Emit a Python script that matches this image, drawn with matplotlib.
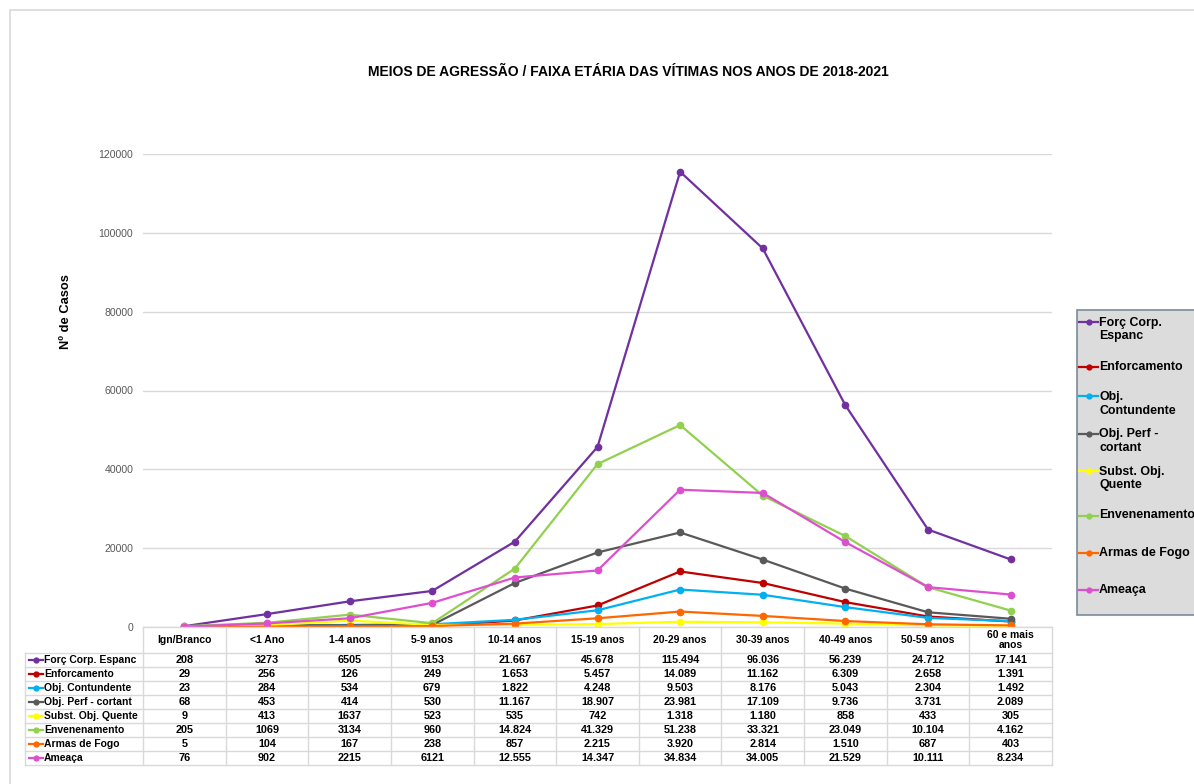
import numpy as np
import matplotlib.pyplot as plt
from matplotlib.patches import Rectangle

plt.rcParams['font.family'] = ['Liberation Sans', 'DejaVu Sans']

# Dados
faixas = ["Ign/Branco", "<1 Ano", "1-4 anos", "5-9 anos", "10-14 anos", "15-19 anos",
          "20-29 anos", "30-39 anos", "40-49 anos", "50-59 anos", "60 e mais\nanos"]

forc_corp = [208, 3273, 6505, 9153, 21667, 45678, 115494, 96036, 56239, 24712, 17141]
enforcamento = [29, 256, 126, 249, 1653, 5457, 14089, 11162, 6309, 2658, 1391]
obj_contundente = [23, 284, 534, 679, 1822, 4248, 9503, 8176, 5043, 2304, 1492]
obj_perf = [68, 453, 414, 530, 11167, 18907, 23981, 17109, 9736, 3731, 2089]
subst_quente = [9, 413, 1637, 523, 535, 742, 1318, 1180, 858, 433, 305]
envenenamento = [205, 1069, 3134, 960, 14824, 41329, 51238, 33321, 23049, 10104, 4162]
armas_fogo = [5, 104, 167, 238, 857, 2215, 3920, 2814, 1510, 687, 403]
ameaca = [76, 902, 2215, 6121, 12555, 14347, 34834, 34005, 21529, 10111, 8234]

series = [
    ("Forç Corp. Espanc", "Forç Corp.\nEspanc", forc_corp, "#7030a0"),
    ("Enforcamento", "Enforcamento", enforcamento, "#c00000"),
    ("Obj. Contundente", "Obj.\nContundente", obj_contundente, "#00b0f0"),
    ("Obj. Perf - cortant", "Obj. Perf -\ncortant", obj_perf, "#595959"),
    ("Subst. Obj. Quente", "Subst. Obj.\nQuente", subst_quente, "#ffff00"),
    ("Envenenamento", "Envenenamento", envenenamento, "#92d050"),
    ("Armas de Fogo", "Armas de Fogo", armas_fogo, "#ff6600"),
    ("Ameaça", "Ameaça", ameaca, "#dd4fcf"),
]

W, H = 1194, 784
fig = plt.figure(figsize=(W / 100, H / 100), dpi=100)

def fx(px):
    return px / W

def fy(py):
    return 1 - py / H

# moldura
fig.patches.append(Rectangle((fx(10), fy(800)), fx(1200) - fx(10), fy(10) - fy(800),
                             transform=fig.transFigure, fill=False, edgecolor="#d9d9d9", lw=1.2))

# grafico principal
left, right, top, bottom = 143, 1052, 154, 627
ax = fig.add_axes([fx(left), fy(bottom), fx(right) - fx(left), fy(top) - fy(bottom)])
x = np.arange(len(faixas))
for nome, _, vals, cor in series:
    ax.plot(x, vals, color=cor, lw=1.6, marker="o", markersize=4.5, zorder=3)
ax.set_xlim(-0.5, len(faixas) - 0.5)
ax.set_ylim(0, 120000)
ax.set_yticks(np.arange(0, 120001, 20000))
ax.set_xticks([])
ax.tick_params(axis="y", length=0, labelsize=7.6, labelcolor="#595959", pad=7)
ax.grid(axis="y", color="#d9d9d9", lw=1)
ax.set_axisbelow(True)
for s in ax.spines.values():
    s.set_visible(False)

fig.text(fx(628), fy(72), "MEIOS DE AGRESSÃO / FAIXA ETÁRIA DAS VÍTIMAS NOS ANOS DE 2018-2021",
         ha="center", va="center", fontsize=10, fontweight="bold")
fig.text(fx(66), fy(312), "Nº de Casos", rotation=90, ha="center", va="center",
         fontsize=9.3, fontweight="bold")

# tabela de dados
tab = fig.add_axes([0, 0, 1, 1], facecolor="none")
tab.set_xlim(0, W)
tab.set_ylim(H, 0)
tab.axis("off")
colw = (right - left) / len(faixas)
gc = "#d9d9d9"
hdr_bot = 653
rowh = 14
nrows = len(series)
tab_bot = hdr_bot + rowh * nrows
tab.plot([left, right], [bottom, bottom], color=gc, lw=1)
for k in range(len(faixas) + 1):
    tab.plot([left + k * colw] * 2, [bottom, tab_bot], color=gc, lw=1)
tab.plot([25, 25], [hdr_bot, tab_bot], color=gc, lw=1)
for r in range(nrows + 1):
    tab.plot([25, right], [hdr_bot + r * rowh] * 2, color=gc, lw=1)

for i, lab in enumerate(faixas):
    tab.text(left + (i + 0.5) * colw, (bottom + hdr_bot) / 2, lab, ha="center", va="center",
             fontsize=7.5, fontweight="bold", linespacing=1.1)

def fmt(v, col):
    if col >= 4:
        return f"{v:,}".replace(",", ".")
    return str(v)

for r, (nome, _, vals, cor) in enumerate(series):
    yc = hdr_bot + (r + 0.5) * rowh
    tab.plot([29, 43], [yc, yc], color=cor, lw=1.6)
    tab.plot([36], [yc], color=cor, marker="o", markersize=3.5)
    tab.text(44, yc, nome, ha="left", va="center", fontsize=7.5, fontweight="bold")
    for i, v in enumerate(vals):
        tab.text(left + (i + 0.5) * colw, yc, fmt(v, i), ha="center", va="center",
                 fontsize=7.8, fontweight="bold")

# legenda
tab.add_patch(Rectangle((1077, 310), 130, 305, facecolor="#dcdcdc", edgecolor="#7a8a9a", lw=1.2))
for k, (_, leg, _, cor) in enumerate(series):
    yc = 329.5 + 37.2 * k
    nl = leg.count("\n")
    yh = yc - 7.5 * nl
    tab.plot([1079, 1098], [yh, yh], color=cor, lw=1.6)
    tab.plot([1088.5], [yh], color=cor, marker="o", markersize=3.5)
    tab.text(1099, yc, leg, ha="left", va="center", fontsize=8.9, fontweight="bold",
             linespacing=1.15)

fig.savefig("out.png", dpi=100)
